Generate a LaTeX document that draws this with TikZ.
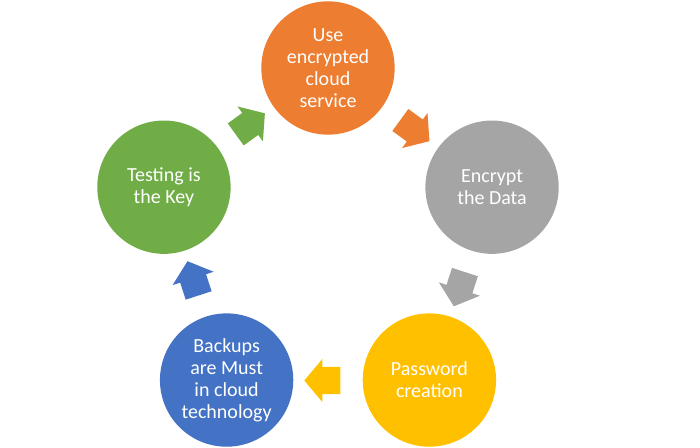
\documentclass[tikz,border=0pt]{standalone}
\usepackage{fontspec}
\setsansfont{Carlito}
\usepackage{tikz}
\usetikzlibrary{shapes.arrows}
\definecolor{orangeA}{HTML}{ED7D31}
\definecolor{grayA}{HTML}{A5A5A5}
\definecolor{goldA}{HTML}{FFC000}
\definecolor{blueA}{HTML}{4472C4}
\definecolor{greenA}{HTML}{70AD47}

\begin{document}
\begin{tikzpicture}[
  x=0.75pt, y=0.75pt,
  every node/.style={font=\sffamily\fontsize{15}{16.5}\selectfont, text=white},
  phase/.style={
    circle, minimum size=100pt, inner sep=0pt, align=center,
  },
  flow/.style={
    single arrow, minimum height=27pt,
    single arrow head extend=6pt, single arrow tip angle=100,
    inner xsep=0pt, inner ysep=10pt,
  },
]
  \useasboundingbox (-328,-207.5) rectangle (372,240.5);

  % Circles round the cycle
  \node[phase, fill=orangeA] (cloud)    at (90:172.5)   {Use\\encrypted\\cloud\\service};
  \node[phase, fill=grayA]   (encrypt)  at (18:172.5)   {Encrypt\\the Data};
  \node[phase, fill=goldA]   (password) at (-54:172.5)  {Password\\creation};
  \node[phase, fill=blueA]   (backup)   at (-126:172.5) {Backups\\are Must\\in cloud\\technology};
  \node[phase, fill=greenA]  (testing)  at (162:172.5)  {Testing is\\the Key};

  % Block arrows between them
  \node[flow, fill=orangeA, rotate=-36]  (toEncrypt)  at (54:140)   {};
  \node[flow, fill=grayA,   rotate=-108] (toPassword) at (-18:140)  {};
  \node[flow, fill=goldA,   rotate=180]  (toBackup)   at (-90:140)  {};
  \node[flow, fill=blueA,   rotate=108]  (toTesting)  at (-162:140) {};
  \node[flow, fill=greenA,  rotate=36]   (toCloud)    at (126:140)  {};
\end{tikzpicture}
\end{document}
